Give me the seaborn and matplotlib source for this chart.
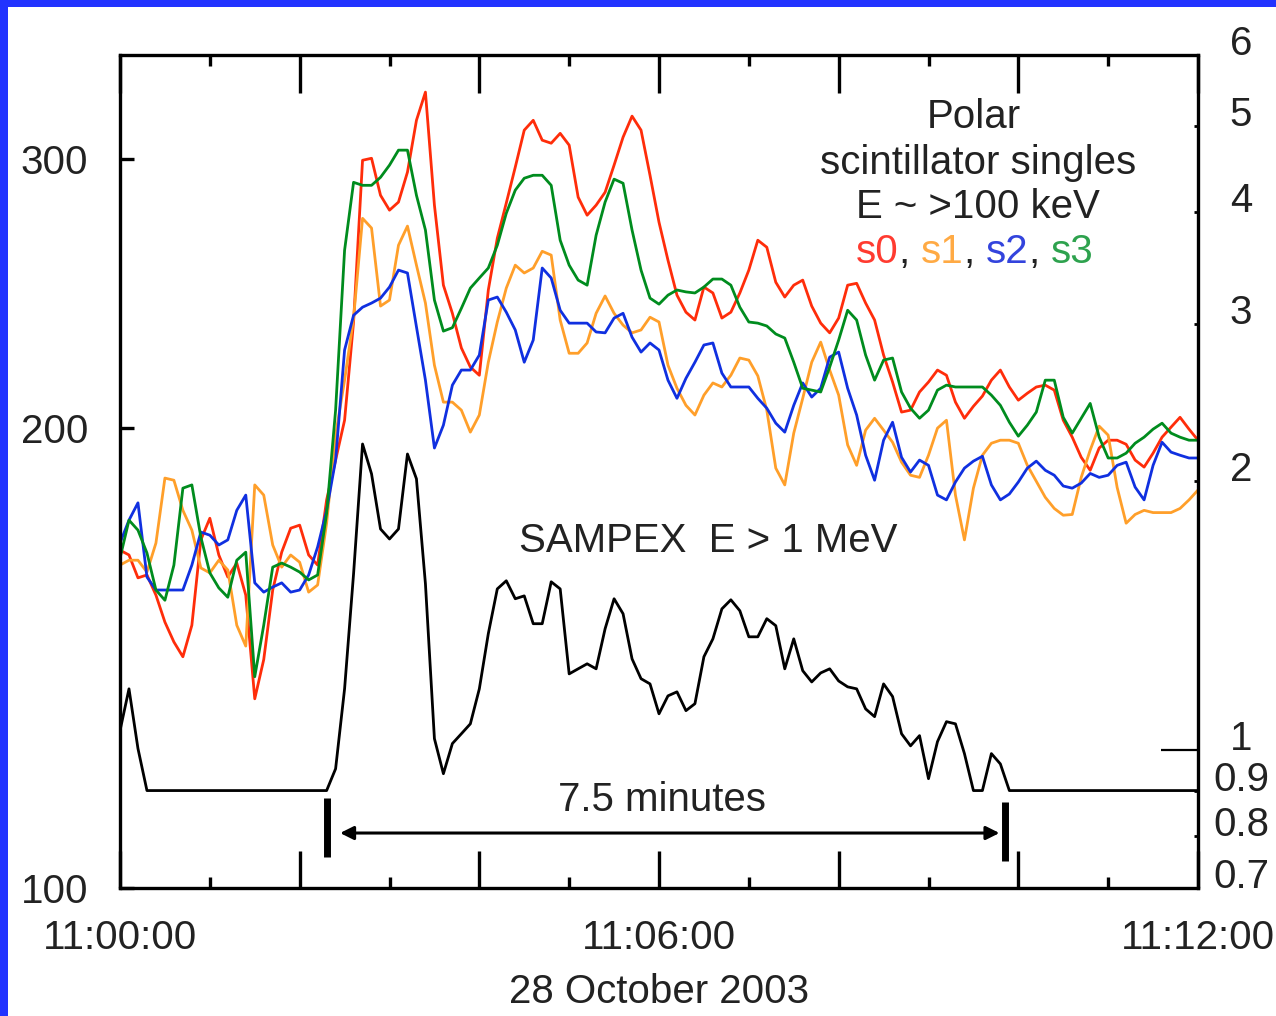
import numpy as np
import pandas as pd
import matplotlib
matplotlib.use("Agg")
import matplotlib.pyplot as plt
import seaborn as sns
from matplotlib.patches import Rectangle
from matplotlib.ticker import NullLocator
from matplotlib.offsetbox import TextArea, HPacker, AnchoredOffsetbox

# ---------------- data ----------------
# time in minutes after 11:00:00 UT, sampled every 6 s
minutes = np.round(np.arange(0, 121) * 0.1, 1)

# Polar scintillator singles (left axis, counts)
s0 = [166.4, 165.2, 159.6, 160.3, 155.5, 149.3, 144.9, 141.7, 148.6, 169.0,
      174.6, 165.2, 159.8, 163.2, 155.5, 133.0, 141.1, 156.7, 165.9, 172.0,
      172.8, 165.2, 162.7, 179.5, 190.6, 202.4, 234.7, 299.5, 300.4, 284.1,
      277.8, 281.2, 294.2, 318.1, 331.9, 279.9, 248.1, 237.8, 225.7, 219.3,
      216.6, 246.3, 266.3, 280.8, 296.4, 313.4, 318.1, 308.7, 307.3, 311.9,
      306.4, 283.3, 275.7, 279.9, 285.4, 297.3, 310.1, 320.1, 313.4, 292.8,
      272.8, 257.6, 244.4, 238.2, 235.4, 247.4, 245.2, 236.1, 238.2, 245.2,
      253.8, 265.5, 262.7, 249.2, 243.7, 248.1, 250.0, 240.4, 234.3, 230.9,
      236.1, 248.1, 248.8, 241.5, 235.4, 223.3, 214.4, 204.9, 205.5, 211.2,
      214.4, 218.3, 216.6, 208.0, 203.0, 206.7, 209.9, 215.0, 218.3, 212.8,
      208.6, 210.8, 212.8, 213.4, 211.8, 202.4, 197.3, 191.4, 187.7, 194.1,
      196.4, 196.4, 195.2, 190.6, 188.6, 192.6, 197.3, 200.3, 203.3, 199.7,
      196.4]
s1 = [162.7, 163.9, 163.9, 161.0, 168.2, 185.5, 184.9, 176.7, 171.5, 162.0,
      160.8, 163.9, 161.5, 148.6, 144.0, 183.6, 180.8, 167.7, 162.2, 165.2,
      163.4, 156.2, 157.9, 173.3, 197.9, 215.0, 236.1, 274.4, 270.4, 240.4,
      242.6, 263.5, 271.2, 255.7, 241.5, 219.9, 208.0, 208.0, 205.5, 198.8,
      204.0, 220.9, 234.7, 247.0, 255.7, 252.7, 254.6, 261.1, 259.6, 235.4,
      223.9, 223.9, 227.4, 237.8, 244.1, 237.8, 233.6, 230.9, 231.9, 236.4,
      234.7, 219.9, 212.4, 207.0, 204.0, 210.2, 214.1, 212.8, 216.6, 222.3,
      221.6, 216.4, 205.5, 188.3, 183.6, 198.5, 209.2, 220.9, 227.7, 218.3,
      210.2, 195.0, 189.1, 199.4, 203.0, 199.4, 195.8, 190.0, 186.3, 185.7,
      192.0, 200.0, 202.4, 180.8, 169.0, 182.7, 192.0, 195.5, 196.4, 196.4,
      195.5, 189.1, 184.6, 180.2, 177.2, 175.4, 175.6, 185.7, 193.5, 200.6,
      197.9, 182.9, 173.3, 175.6, 176.7, 176.1, 176.1, 176.1, 177.2, 179.5,
      182.2]
s2 = [168.2, 174.1, 178.7, 159.8, 156.7, 156.7, 156.7, 156.7, 162.7, 171.0,
      170.2, 167.7, 169.0, 176.7, 180.8, 158.4, 156.2, 157.4, 158.4, 156.2,
      156.7, 160.3, 167.2, 176.7, 190.6, 225.0, 237.1, 240.0, 241.5, 243.3,
      247.4, 253.8, 252.7, 233.0, 215.0, 194.1, 200.9, 213.4, 218.3, 218.3,
      223.3, 242.6, 243.7, 238.2, 231.9, 220.9, 228.4, 254.6, 250.8, 238.9,
      234.3, 234.3, 234.3, 231.2, 230.9, 236.1, 237.8, 229.4, 224.3, 227.4,
      225.0, 215.0, 209.2, 215.6, 220.9, 226.7, 227.4, 217.3, 212.8, 212.8,
      212.8, 209.2, 206.1, 201.5, 198.8, 207.0, 214.1, 209.6, 212.4, 222.6,
      224.3, 212.4, 204.0, 192.0, 184.9, 196.4, 201.8, 191.4, 187.2, 190.6,
      189.1, 180.8, 179.5, 184.4, 188.3, 190.3, 191.7, 183.6, 179.5, 181.1,
      184.4, 188.3, 190.3, 187.7, 186.3, 183.3, 182.7, 184.1, 186.8, 185.7,
      186.3, 189.1, 190.0, 183.0, 179.5, 189.1, 195.8, 192.9, 192.0, 191.2,
      191.2]
s3 = [164.4, 174.1, 171.5, 165.7, 156.7, 154.3, 162.7, 182.7, 183.6, 169.7,
      160.8, 157.2, 155.0, 163.9, 165.9, 137.5, 148.6, 162.2, 163.2, 162.2,
      161.0, 159.1, 160.3, 175.9, 205.5, 261.5, 289.7, 288.4, 288.4, 291.9,
      297.3, 304.1, 304.1, 284.1, 269.6, 242.6, 231.5, 232.7, 239.6, 247.0,
      250.8, 254.6, 263.5, 276.5, 286.3, 291.5, 292.8, 292.8, 288.4, 265.5,
      255.7, 250.0, 248.1, 267.5, 281.2, 291.1, 289.3, 269.6, 253.8, 243.3,
      241.1, 244.4, 246.3, 245.6, 245.2, 247.4, 250.4, 250.4, 248.1, 240.0,
      234.7, 234.3, 233.3, 230.5, 229.1, 220.9, 212.4, 211.8, 211.2, 219.3,
      228.4, 238.9, 235.4, 223.3, 215.0, 221.6, 222.3, 211.2, 206.1, 203.0,
      205.5, 211.8, 213.4, 212.8, 212.8, 212.8, 212.8, 210.2, 207.0, 201.8,
      197.6, 200.9, 204.9, 215.0, 215.0, 203.3, 198.5, 203.0, 207.6, 197.3,
      191.2, 191.2, 192.6, 195.5, 197.3, 199.7, 201.5, 198.5, 197.3, 196.4,
      196.4]

# SAMPEX E > 1 MeV (right axis)
sampex = [1.050, 1.170, 1.003, 0.9, 0.9, 0.9, 0.9, 0.9, 0.9, 0.9,
          0.9, 0.9, 0.9, 0.9, 0.9, 0.9, 0.9, 0.9, 0.9, 0.9,
          0.9, 0.9, 0.9, 0.9, 0.952, 1.170, 1.574, 2.200, 2.037, 1.767,
          1.722, 1.767, 2.144, 2.011, 1.534, 1.029, 0.940, 1.016, 1.042, 1.069,
          1.170, 1.349, 1.514, 1.546, 1.476, 1.487, 1.384, 1.384, 1.542, 1.514,
          1.216, 1.232, 1.248, 1.232, 1.366, 1.476, 1.420, 1.264, 1.201, 1.185,
          1.097, 1.149, 1.161, 1.106, 1.126, 1.271, 1.331, 1.438, 1.472, 1.431,
          1.338, 1.338, 1.402, 1.377, 1.232, 1.331, 1.226, 1.191, 1.219, 1.232,
          1.194, 1.176, 1.170, 1.111, 1.089, 1.185, 1.147, 1.042, 1.010, 1.037,
          0.928, 1.021, 1.075, 1.069, 0.990, 0.9, 0.9, 0.990, 0.964, 0.9,
          0.9, 0.9, 0.9, 0.9, 0.9, 0.9, 0.9, 0.9, 0.9, 0.9,
          0.9, 0.9, 0.9, 0.9, 0.9, 0.9, 0.9, 0.9, 0.9, 0.9,
          0.9]

sensors = ["s0", "s1", "s2", "s3"]
sensor_colors = ["#ff2d0a", "#ff9f2a", "#1030e0", "#008c1e"]
label_colors = ["#ff3b30", "#ffaa44", "#3344dd", "#2ea24e"]

left_ticks = [100, 200, 300]
right_major = [1]
right_minor = [0.7, 0.8, 0.9, 2, 3, 4, 5, 6]
x_major = [0, 2, 4, 6, 8, 10, 12]
x_major_labels = ["11:00:00", "", "", "11:06:00", "", "", "11:12:00"]
x_minor = [1, 3, 5, 7, 9, 11]

window_start, window_end = 2.30, 9.85   # 7.5 minute interval markers

# ---------------- figure ----------------
plt.rcParams["font.family"] = ["Liberation Sans", "DejaVu Sans"]
TXT = "#222222"
FS = 29

fig = plt.figure(figsize=(12.76, 10.16), dpi=100)
ax = fig.add_axes([120 / 1276, 128 / 1016, 1078 / 1276, 833 / 1016])

df = pd.DataFrame({
    "minute": np.tile(minutes, 4),
    "rate": s0 + s1 + s2 + s3,
    "sensor": np.repeat(sensors, len(minutes)),
})
ax.set_yscale("log")
sns.lineplot(data=df, x="minute", y="rate", hue="sensor", hue_order=sensors,
             palette=dict(zip(sensors, sensor_colors)), ax=ax, legend=False,
             estimator=None, errorbar=None, sort=False, linewidth=2.0)
ax.set_xlim(0, 12)
ax.set_ylim(100, 351)
ax.set_ylabel("")

ax2 = ax.twinx()
ax2.set_yscale("log")
sns.lineplot(x=minutes, y=sampex, ax=ax2, color="black", linewidth=2.0,
             estimator=None, errorbar=None, sort=False)
ax2.set_ylim(0.7, 6.0)
ax2.set_ylabel("")
for sp in ax2.spines.values():
    sp.set_visible(False)

for sp in ax.spines.values():
    sp.set_linewidth(2.4)
    sp.set_color("black")

# x axis
ax.set_xticks(x_major, labels=x_major_labels)
ax.set_xticks(x_minor, minor=True)
ax.tick_params(axis="x", which="major", direction="in", length=27, width=2.4,
               top=True, bottom=True, pad=22, labelsize=FS, labelcolor=TXT)
ax.tick_params(axis="x", which="minor", direction="in", length=8, width=2.4,
               top=True, bottom=True)
ax.set_xlabel("28 October 2003", fontsize=FS, color=TXT, labelpad=12)

# left y axis
ax.set_yticks(left_ticks, labels=[str(v) for v in left_ticks])
ax.yaxis.set_minor_locator(NullLocator())
ax.tick_params(axis="y", which="major", direction="in", length=10, width=2.4,
               left=True, right=False, pad=23, labelsize=FS, labelcolor=TXT)

# right y axis
ax2.set_yticks(right_major, labels=["1"])
ax2.set_yticks(right_minor, labels=[f"{v:g}" for v in right_minor], minor=True)
ax2.tick_params(axis="y", which="major", direction="in", length=27, width=1.6,
                pad=31, labelsize=FS, labelcolor=TXT)
ax2.tick_params(axis="y", which="minor", direction="in", length=3, width=2.0,
                pad=31, labelsize=FS, labelcolor=TXT)
plt.setp(ax2.get_yticklabels(which="both"), ha="center", va="baseline")

# annotations
ax.text(0.792, 0.9256, "Polar", transform=ax.transAxes, ha="center",
        va="center", fontsize=FS, color=TXT)
ax.text(0.796, 0.8703, "scintillator singles", transform=ax.transAxes,
        ha="center", va="center", fontsize=FS, color=TXT)
ax.text(0.796, 0.8175, "E ~ >100 keV", transform=ax.transAxes, ha="center",
        va="center", fontsize=FS, color=TXT)
parts = []
for i, (name, col) in enumerate(zip(sensors, label_colors)):
    parts.append(TextArea(name, textprops=dict(color=col, size=FS)))
    if i < len(sensors) - 1:
        parts.append(TextArea(", ", textprops=dict(color=TXT, size=FS)))
box = HPacker(children=parts, align="baseline", pad=0, sep=0)
anch = AnchoredOffsetbox(loc="center", child=box, pad=0, borderpad=0,
                         frameon=False, bbox_to_anchor=(0.793, 0.7635),
                         bbox_transform=ax.transAxes)
ax.add_artist(anch)

ax.text(0.5455, 0.4166, "SAMPEX  E > 1 MeV", transform=ax.transAxes,
        ha="center", va="center", fontsize=FS, color=TXT)
ax.text(0.5028, 0.1056, "7.5 minutes", transform=ax.transAxes,
        ha="center", va="center", fontsize=FS, color=TXT)

xt = ax.get_xaxis_transform()
ax.annotate("", xy=(window_end - 0.06, 0.066), xytext=(window_start + 0.15, 0.066),
            xycoords=xt, textcoords=xt,
            arrowprops=dict(arrowstyle="<|-|>", color="black", lw=2.2,
                            mutation_scale=20, shrinkA=0, shrinkB=0))
ax.plot([window_start, window_start], [0.037, 0.108], transform=xt,
        color="black", lw=5, solid_capstyle="butt", clip_on=False)
ax.plot([window_end, window_end], [0.032, 0.103], transform=xt,
        color="black", lw=5, solid_capstyle="butt", clip_on=False)

# blue frame of the original slide
fig.add_artist(Rectangle((0, 1 - 7 / 1016), 1, 7 / 1016, transform=fig.transFigure,
                         facecolor="#2233ff", edgecolor="none"))
fig.add_artist(Rectangle((0, 0), 8 / 1276, 1, transform=fig.transFigure,
                         facecolor="#2233ff", edgecolor="none"))

fig.savefig("out.png", dpi=100)
